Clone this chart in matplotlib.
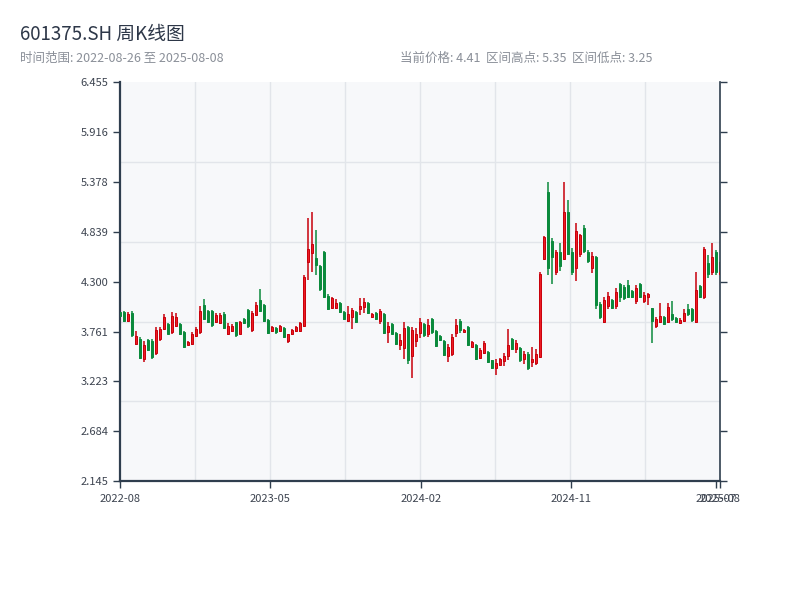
import numpy as np
import pandas as pd
import matplotlib
matplotlib.use("Agg")
import matplotlib.pyplot as plt
import matplotlib.dates as mdates

plt.rcParams["font.family"] = ["Noto Sans CJK SC", "DejaVu Sans"]

# weekly OHLC
opens = [3.97, 3.97, 3.88, 3.96, 3.63, 3.68, 3.46, 3.67, 3.66, 3.53,
         3.68, 3.79, 3.84, 3.76, 3.82, 3.84, 3.76, 3.62, 3.63, 3.71,
         3.76, 4.05, 3.98, 3.98, 3.86, 3.85, 3.95, 3.74, 3.77, 3.86,
         3.74, 3.90, 3.99, 3.78, 3.94, 4.10, 4.05, 3.89, 3.77, 3.80,
         3.77, 3.80, 3.66, 3.73, 3.77, 3.77, 3.82, 4.51, 4.61, 4.56,
         4.47, 4.62, 4.15, 4.02, 4.02, 4.07, 3.97, 3.88, 3.92, 3.97,
         4.00, 4.03, 4.07, 3.92, 3.96, 3.88, 3.95, 3.76, 3.84, 3.75,
         3.62, 3.58, 3.81, 3.50, 3.66, 3.75, 3.84, 3.74, 3.90, 3.77,
         3.71, 3.66, 3.50, 3.52, 3.75, 3.88, 3.76, 3.81, 3.60, 3.62,
         3.48, 3.53, 3.54, 3.45, 3.37, 3.40, 3.44, 3.50, 3.68, 3.57,
         3.58, 3.46, 3.52, 3.43, 3.42, 3.49, 4.55, 5.27, 4.74, 4.40,
         4.62, 4.55, 5.05, 4.62, 4.45, 4.60, 4.88, 4.62, 4.45, 4.57,
         4.06, 3.87, 4.04, 4.10, 4.04, 4.27, 4.24, 4.26, 4.20, 4.09,
         4.28, 4.09, 4.13, 4.02, 3.82, 3.87, 3.92, 3.87, 3.95, 3.91,
         3.85, 3.88, 4.00, 4.01, 3.87, 4.25, 4.13, 4.50, 4.40, 4.62,
         4.38]
closes = [3.93, 3.88, 3.95, 3.72, 3.71, 3.48, 3.62, 3.56, 3.49, 3.78,
          3.79, 3.92, 3.74, 3.93, 3.92, 3.73, 3.60, 3.65, 3.73, 3.79,
          3.98, 3.90, 3.86, 3.83, 3.94, 3.94, 3.80, 3.82, 3.82, 3.72,
          3.86, 3.85, 3.82, 3.96, 4.05, 3.98, 3.88, 3.75, 3.81, 3.76,
          3.82, 3.70, 3.73, 3.78, 3.81, 3.85, 4.35, 4.65, 4.71, 4.48,
          4.22, 4.14, 4.01, 4.12, 4.07, 3.97, 3.90, 3.95, 3.99, 3.86,
          4.04, 4.08, 3.96, 3.95, 3.90, 3.98, 3.75, 3.82, 3.74, 3.63,
          3.67, 3.80, 3.45, 3.78, 3.73, 3.86, 3.72, 3.83, 3.76, 3.61,
          3.67, 3.51, 3.59, 3.70, 3.83, 3.78, 3.78, 3.62, 3.65, 3.46,
          3.56, 3.64, 3.43, 3.37, 3.42, 3.46, 3.50, 3.62, 3.57, 3.64,
          3.45, 3.52, 3.37, 3.47, 3.52, 4.38, 4.78, 4.45, 4.57, 4.62,
          4.47, 5.05, 4.60, 4.40, 4.85, 4.80, 4.63, 4.52, 4.58, 4.05,
          3.92, 4.10, 4.15, 4.02, 4.19, 4.13, 4.12, 4.14, 4.13, 4.23,
          4.14, 4.16, 4.17, 3.88, 3.90, 3.93, 3.84, 4.03, 3.90, 3.86,
          3.89, 3.96, 3.95, 3.89, 4.21, 4.13, 4.65, 4.38, 4.57, 4.40,
          4.41]
highs = [3.98, 3.98, 3.97, 3.98, 3.77, 3.70, 3.66, 3.68, 3.68, 3.81,
         3.81, 3.95, 3.85, 3.97, 3.96, 3.85, 3.77, 3.66, 3.76, 3.81,
         4.04, 4.11, 3.99, 3.99, 3.96, 3.96, 3.97, 3.85, 3.84, 3.87,
         3.88, 3.91, 4.00, 3.98, 4.08, 4.22, 4.06, 3.90, 3.82, 3.81,
         3.83, 3.81, 3.74, 3.79, 3.82, 3.86, 4.37, 4.99, 5.05, 4.86,
         4.48, 4.63, 4.17, 4.14, 4.11, 4.08, 3.98, 4.04, 4.02, 3.98,
         4.12, 4.12, 4.08, 3.96, 3.97, 4.01, 3.96, 3.86, 3.85, 3.76,
         3.74, 3.86, 3.82, 3.81, 3.80, 3.91, 3.85, 3.90, 3.91, 3.78,
         3.72, 3.67, 3.63, 3.74, 3.90, 3.90, 3.79, 3.82, 3.66, 3.63,
         3.58, 3.66, 3.55, 3.45, 3.47, 3.48, 3.53, 3.79, 3.69, 3.67,
         3.59, 3.55, 3.54, 3.60, 3.57, 4.40, 4.79, 5.38, 4.77, 4.64,
         4.72, 5.38, 5.18, 4.66, 4.93, 4.82, 4.91, 4.64, 4.62, 4.58,
         4.08, 4.13, 4.19, 4.11, 4.23, 4.29, 4.26, 4.32, 4.21, 4.26,
         4.29, 4.19, 4.18, 4.02, 3.92, 4.07, 3.93, 4.07, 4.09, 3.92,
         3.91, 4.00, 4.06, 4.02, 4.40, 4.26, 4.67, 4.59, 4.72, 4.64,
         4.51]
lows = [3.92, 3.86, 3.86, 3.70, 3.62, 3.46, 3.43, 3.55, 3.47, 3.51,
        3.66, 3.78, 3.73, 3.74, 3.81, 3.72, 3.58, 3.62, 3.62, 3.70,
        3.74, 3.89, 3.85, 3.81, 3.85, 3.84, 3.79, 3.72, 3.76, 3.70,
        3.73, 3.84, 3.80, 3.76, 3.93, 3.97, 3.86, 3.73, 3.76, 3.74,
        3.76, 3.69, 3.64, 3.72, 3.76, 3.76, 3.81, 4.32, 4.40, 4.37,
        4.20, 4.12, 3.99, 4.01, 4.00, 3.96, 3.89, 3.86, 3.79, 3.85,
        3.94, 3.96, 3.95, 3.91, 3.89, 3.84, 3.73, 3.64, 3.73, 3.62,
        3.56, 3.47, 3.41, 3.26, 3.60, 3.69, 3.70, 3.70, 3.74, 3.59,
        3.66, 3.50, 3.43, 3.50, 3.70, 3.75, 3.76, 3.61, 3.59, 3.45,
        3.46, 3.52, 3.42, 3.36, 3.29, 3.39, 3.39, 3.45, 3.56, 3.53,
        3.43, 3.41, 3.35, 3.38, 3.40, 3.48, 4.53, 4.37, 4.28, 4.37,
        4.42, 4.53, 4.59, 4.37, 4.31, 4.57, 4.61, 4.50, 4.39, 4.00,
        3.90, 3.85, 4.00, 4.00, 4.00, 4.08, 4.10, 4.12, 4.12, 4.06,
        4.12, 4.07, 4.05, 3.64, 3.80, 3.85, 3.83, 3.85, 3.88, 3.85,
        3.84, 3.86, 3.93, 3.87, 3.85, 4.12, 4.11, 4.34, 4.37, 4.37,
        4.37]

tick_dates = ["2022-08-01", "2023-05-01", "2024-02-01", "2024-11-01",
              "2025-07-23", "2025-07-30"]
tick_labels = ["2022-08", "2023-05", "2024-02", "2024-11", "2025-07", "2025-08"]
date_min, date_max = "2022-08-01", "2025-07-30"

y_min, y_max = 2.145, 6.455

up_face, up_edge = "#ec1c24", "#c8000a"
down_color = "#0b8a3c"
spine_color = "#2f3e4e"
grid_color = "#e2e5ea"


def main():
    o = np.array(opens)
    c = np.array(closes)
    h = np.array(highs)
    lo = np.array(lows)
    x = np.arange(len(o))
    up = c >= o

    fig = plt.figure(figsize=(8, 6), dpi=100)
    ax = fig.add_axes([0.15, 0.198, 0.75, 0.665])
    ax.set_facecolor("#f7f8fa")

    # split lines (independent from tick positions, like the original)
    for gy in np.linspace(y_min, y_max, 6)[1:-1]:
        ax.axhline(gy, color=grid_color, lw=1, zorder=0)
    for gx in np.linspace(0, len(x) - 1, 9)[1:-1]:
        ax.axvline(gx, color=grid_color, lw=1, zorder=0)

    w = 0.55
    for mask, face, edge in [(up, up_face, up_edge), (~up, down_color, down_color)]:
        ax.vlines(x[mask], lo[mask], h[mask], color=edge, lw=1.1, zorder=2)
        bottom = np.minimum(o, c)[mask]
        height = np.maximum(np.abs(c - o)[mask], 0.01)
        ax.bar(x[mask], height, bottom=bottom, width=w, color=face,
               edgecolor=edge, linewidth=0.7, zorder=3)

    ax.set_xlim(0, len(x) - 1)
    ax.set_ylim(y_min, y_max)
    ax.set_yticks(np.linspace(y_min, y_max, 9))
    ax.set_yticklabels([f"{v:.3f}" for v in np.linspace(y_min, y_max, 9)])
    ax.tick_params(axis="y", direction="out", length=5, width=1,
                   colors=spine_color, labelcolor="#3d4450", labelsize=8,
                   right=True, labelright=False)

    ax.spines["top"].set_visible(False)
    ax.spines["left"].set_color(spine_color)
    ax.spines["left"].set_linewidth(1.6)
    ax.spines["bottom"].set_color(spine_color)
    ax.spines["bottom"].set_linewidth(1.6)
    ax.spines["right"].set_color(spine_color)
    ax.spines["right"].set_linewidth(1.2)

    # time axis for labels
    ax2 = ax.twiny()
    ax2.set_xlim(mdates.date2num(pd.Timestamp(date_min)),
                 mdates.date2num(pd.Timestamp(date_max)))
    ax2.xaxis.set_ticks_position("bottom")
    ax2.xaxis.set_label_position("bottom")
    ax2.set_xticks([mdates.date2num(pd.Timestamp(d)) for d in tick_dates])
    ax2.set_xticklabels(tick_labels)
    ax2.tick_params(axis="x", direction="out", length=5, width=1,
                    colors=spine_color, labelcolor="#3d4450", labelsize=8, pad=4)
    ax2.minorticks_off()
    for s in ax2.spines.values():
        s.set_visible(False)
    # twiny turns the index axis ticks back on, so switch them off here
    ax.tick_params(axis="x", which="both", bottom=False, top=False,
                   labelbottom=False, labeltop=False)

    fig.text(0.025, 1 - 34 / 600, "601375.SH 周K线图", fontsize=13.5,
             color="#2d3748", va="center", ha="left")
    fig.text(0.025, 1 - 58 / 600, "时间范围: 2022-08-26 至 2025-08-08",
             fontsize=9, color="#8a8f98", va="center", ha="left")
    fig.text(0.5, 1 - 58 / 600,
             "当前价格: 4.41  区间高点: 5.35  区间低点: 3.25",
             fontsize=9, color="#8a8f98", va="center", ha="left")

    fig.savefig("out.png", dpi=100)


if __name__ == "__main__":
    main()
